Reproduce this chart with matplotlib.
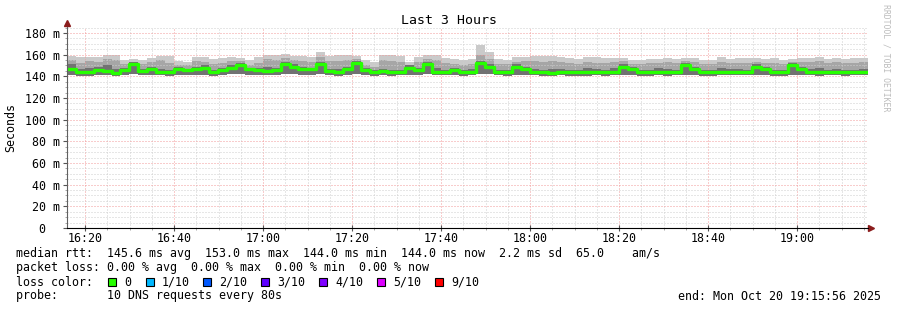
#!/usr/bin/env python3

import numpy as np
from matplotlib import pyplot as plt
from matplotlib.patches import Rectangle

# smokeping style latency graph, 2 minute steps starting 16:15:56
# x values are minutes after 16:00
start_min = 15 + 56 / 60.0
step_min = 2.0

# median rtt per step (ms)
med = [147, 144, 144, 146, 145, 143, 146, 151, 145, 147, 144, 144, 147, 146, 147,
       148, 144, 146, 148, 150, 147, 146, 145, 146, 151, 149, 147, 147, 151, 145,
       144, 147, 152, 146, 144, 145, 144, 144, 148, 146, 151, 144, 144, 146, 144,
       144, 152, 149, 144, 144, 149, 147, 144, 144, 143, 144, 144, 144, 144, 144,
       144, 144, 149, 147, 144, 144, 144, 144, 144, 150, 147, 144, 144, 144, 144,
       144, 144, 149, 147, 144, 144, 150, 147, 144, 144, 144, 144, 144, 144, 144]

# max ping (top of the light smoke)
hi = [159, 158, 158, 158, 160, 160, 155, 156, 155, 157, 159, 159, 154, 153, 158,
      158, 156, 157, 158, 157, 155, 158, 160, 160, 161, 159, 159, 158, 162, 159,
      160, 160, 159, 155, 153, 160, 160, 159, 153, 158, 160, 160, 157, 156, 155,
      156, 169, 162, 156, 155, 158, 158, 159, 159, 159, 158, 157, 156, 158, 158,
      157, 157, 157, 155, 155, 156, 156, 157, 156, 157, 157, 155, 155, 158, 156,
      157, 157, 157, 156, 157, 155, 156, 157, 157, 158, 156, 157, 156, 157, 157]

# upper edge of the middle smoke layer
up2 = [155, 152, 154, 153, 156, 155, 151, 153, 151, 153, 155, 152, 150, 150, 154,
       153, 151, 152, 154, 154, 150, 152, 156, 155, 157, 155, 154, 153, 158, 154,
       154, 155, 156, 150, 149, 155, 154, 153, 150, 153, 156, 155, 152, 151, 150,
       151, 160, 156, 151, 151, 153, 154, 154, 153, 154, 153, 152, 151, 153, 152,
       152, 153, 154, 151, 151, 152, 152, 153, 152, 154, 153, 151, 151, 153, 152,
       152, 152, 153, 152, 152, 151, 153, 153, 153, 154, 152, 153, 152, 152, 153]

# upper edge of the dark smoke layer
up1 = [151, 147, 148, 149, 150, 147, 148, 153, 147, 149, 147, 146, 149, 147, 149,
       150, 146, 148, 150, 152, 148, 148, 149, 148, 153, 151, 149, 148, 153, 147,
       147, 149, 154, 148, 146, 147, 146, 146, 150, 148, 153, 148, 146, 148, 146,
       147, 154, 151, 146, 146, 151, 149, 147, 146, 147, 147, 146, 146, 148, 147,
       146, 148, 151, 149, 146, 146, 148, 147, 146, 152, 149, 146, 146, 148, 147,
       147, 146, 151, 149, 146, 146, 152, 149, 147, 148, 146, 147, 146, 146, 147]

# min ping (bottom of the smoke)
lo = [141, 140, 140, 141, 141, 140, 141, 142, 141, 141, 141, 140, 141, 141, 141,
      141, 140, 141, 142, 142, 141, 141, 141, 141, 142, 142, 141, 141, 142, 141,
      140, 141, 142, 141, 140, 141, 140, 141, 141, 141, 142, 141, 141, 141, 140,
      141, 142, 142, 141, 140, 141, 141, 141, 140, 140, 141, 140, 140, 140, 141,
      140, 141, 141, 141, 140, 140, 141, 140, 141, 141, 141, 140, 140, 141, 141,
      141, 141, 141, 141, 140, 140, 141, 141, 141, 140, 141, 141, 140, 141, 141]

time_ticks = [20, 40, 60, 80, 100, 120, 140, 160, 180]
time_labels = ['16:20', '16:40', '17:00', '17:20', '17:40', '18:00', '18:20', '18:40', '19:00']
y_ticks = [0, 20, 40, 60, 80, 100, 120, 140, 160, 180]
y_labels = ['0  ', '20 m', '40 m', '60 m', '80 m', '100 m', '120 m', '140 m', '160 m', '180 m']

loss_names = ['0', '1/10', '2/10', '3/10', '4/10', '5/10', '9/10']
loss_colors = ['#26ff00', '#00b8ff', '#0059ff', '#5e00ff', '#7e00ff', '#dd00ff', '#ff0000']

summary_lines = [
    'median rtt:  145.6 ms avg  153.0 ms max  144.0 ms min  144.0 ms now  2.2 ms sd  65.0    am/s',
    'packet loss: 0.00 % avg  0.00 % max  0.00 % min  0.00 % now',
    'loss color:',
    'probe:       10 DNS requests every 80s',
]
end_text = 'end: Mon Oct 20 19:15:56 2025'

W, H = 897, 310
MONO = 'DejaVu Sans Mono'
FS = 8.4


def fx(px):
    return px / W


def fy(py):
    return 1 - py / H


def main():
    plt.rcParams['font.family'] = MONO
    fig = plt.figure(figsize=(W / 100, H / 100), dpi=100)
    ax = fig.add_axes([fx(67), fy(228), fx(868) - fx(67), fy(27) - fy(228)])

    n = len(med)
    edges = start_min + step_min * np.arange(n + 1)

    def ext(v):
        return np.append(v, v[-1])

    ax.fill_between(edges, ext(lo), ext(hi), step='post', color='#cacaca', lw=0, zorder=1)
    ax.fill_between(edges, ext(lo), ext(up2), step='post', color='#a6a6a6', lw=0, zorder=2)
    ax.fill_between(edges, ext(lo), ext(up1), step='post', color='#727272', lw=0, zorder=3)
    ax.step(edges, ext(med), where='post', color='#26ff00', lw=2.4, zorder=5)

    ax.set_xlim(start_min, start_min + 180)
    ax.set_ylim(0, 185.5)

    ax.set_xticks(time_ticks)
    ax.set_xticklabels(time_labels, fontsize=FS)
    ax.set_xticks(np.arange(20, 196, 5), minor=True)
    ax.set_yticks(y_ticks)
    ax.set_yticklabels(y_labels, fontsize=FS)
    ax.set_yticks(np.arange(0, 186, 5), minor=True)
    ax.tick_params(axis='both', which='major', length=3, width=0.8, color='#555555', pad=2)
    ax.tick_params(axis='both', which='minor', length=1.5, width=0.6, color='#999999')
    ax.tick_params(axis='x', which='major', direction='inout', length=4, pad=1)

    ax.set_axisbelow(False)
    ax.grid(which='minor', color='#cfcfcf', lw=0.72, linestyle=(0, (1, 2)), zorder=6)
    ax.grid(which='major', color='#f29a9a', lw=0.72, linestyle=(0, (1, 2)), zorder=7)

    for s in ['top', 'right']:
        ax.spines[s].set_visible(False)
    ax.spines['left'].set_color('#606060')
    ax.spines['bottom'].set_color('#000000')
    ax.spines['left'].set_zorder(8)
    ax.spines['bottom'].set_zorder(8)

    # axis arrows
    ax.plot([0], [1.02], marker='^', ms=4, color='#8b1c1c', transform=ax.transAxes, clip_on=False)
    ax.plot([1.004], [0], marker='>', ms=4, color='#8b1c1c', transform=ax.transAxes, clip_on=False)

    fig.text(0.5, fy(20), 'Last 3 Hours', ha='center', va='center', fontsize=9.5)
    fig.text(fx(11), fy(127), 'Seconds', rotation=90, ha='center', va='center', fontsize=FS)
    fig.text(fx(886), fy(4), 'RRDTOOL / TOBI OETIKER', rotation=270, ha='center', va='top',
             fontsize=5.9, color='#bcbcbc')

    for i, line in enumerate(summary_lines):
        fig.text(fx(16), fy(254 + 14 * i), line, ha='left', va='center', fontsize=FS)
    fig.text(fx(881), fy(296), end_text, ha='right', va='center', fontsize=FS)

    box_x = [108, 146, 203, 261, 319, 377, 435]
    for bx, name, col in zip(box_x, loss_names, loss_colors):
        fig.patches.append(Rectangle((fx(bx), fy(286)), fx(8), 8 / H, facecolor=col,
                                     edgecolor='black', lw=0.8, transform=fig.transFigure))
        fig.text(fx(bx + 16), fy(282), name, ha='left', va='center', fontsize=FS)

    fig.savefig('out.png', dpi=100)


if __name__ == '__main__':
    main()
